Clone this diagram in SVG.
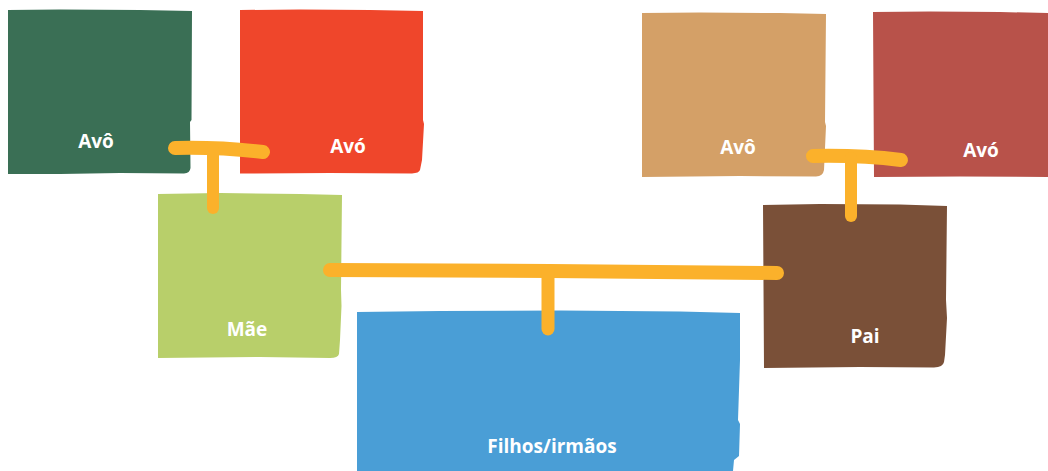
<svg xmlns="http://www.w3.org/2000/svg" width="1048" height="471" viewBox="0 0 1048 471">
<style>
.lbl{font-family:"Open Sans","Liberation Sans",sans-serif;font-weight:700;font-size:19px;fill:#ffffff;text-anchor:middle}
.con{fill:none;stroke:#FBB12B;stroke-linecap:round;stroke-linejoin:round}
</style>
<rect width="1048" height="471" fill="#ffffff"/>
<g id="avo-pat">
<path d="M8,10 L60,9.5 L140,10 L192,11 L191.5,120 L190,122 L190.5,168 Q190,173 184,173.5 L120,173 L60,174 L8,174 Z" fill="#3A6F55"/>
<text class="lbl" x="96" y="148">Avô</text>
</g>
<g id="ava-pat">
<path d="M240,10 L300,9.5 L370,10 L423,11 L423,120 L424,124 L422,160 L420,170 Q419,173 412,173.5 L330,173 L240,173.5 Z" fill="#EF462B"/>
<text class="lbl" x="348" y="153">Avó</text>
</g>
<g id="avo-mat">
<path d="M642,13 L700,12.5 L780,13 L826,14 L825,122 L826,126 L824,170 Q823,176 816,176.5 L740,176 L642,177 Z" fill="#D4A067"/>
<text class="lbl" x="738" y="154">Avô</text>
</g>
<g id="ava-mat">
<path d="M873,12 L930,11.5 L1000,12 L1048,13 L1048,177 L960,176.5 L874,177 Z" fill="#B8524A"/>
<text class="lbl" x="981" y="157">Avó</text>
</g>
<g id="mae">
<path d="M158,194 L220,193 L300,194 L342,195 L341,290 L341.5,306 L340,340 L339,354 Q338,358 330,358 L260,357 L158,358 Z" fill="#B8CF6A"/>
<text class="lbl" x="247" y="336">Mãe</text>
</g>
<g id="pai">
<path d="M763,205 L820,204 L900,204.5 L947,206 L946,300 L947,318 L945,355 L944,362 Q943,367 934,367.5 L860,367 L764,368 Z" fill="#7A5038"/>
<text class="lbl" x="865" y="343">Pai</text>
</g>
<g id="filhos">
<path d="M357,312 L440,311 L560,310.5 L680,311.5 L740,313 L740,360 L738,420 L740,424 L739,456 L734,460 L733,471 L357,471 Z" fill="#4A9ED6"/>
<text class="lbl" x="552" y="453">Filhos/irmãos</text>
</g>
<g id="connectors">
<path class="con" stroke-width="14" d="M175,148 Q220,147 263,152"/>
<path class="con" stroke-width="12" d="M213,150 L213,208"/>
<path class="con" stroke-width="14" d="M813,156 Q860,155 901,160"/>
<path class="con" stroke-width="12" d="M851,158 L851,216"/>
<path class="con" stroke-width="14" d="M330,270 L550,271 L777,273"/>
<path class="con" stroke-width="13" d="M548,272 L548,329"/>
</g>
</svg>
